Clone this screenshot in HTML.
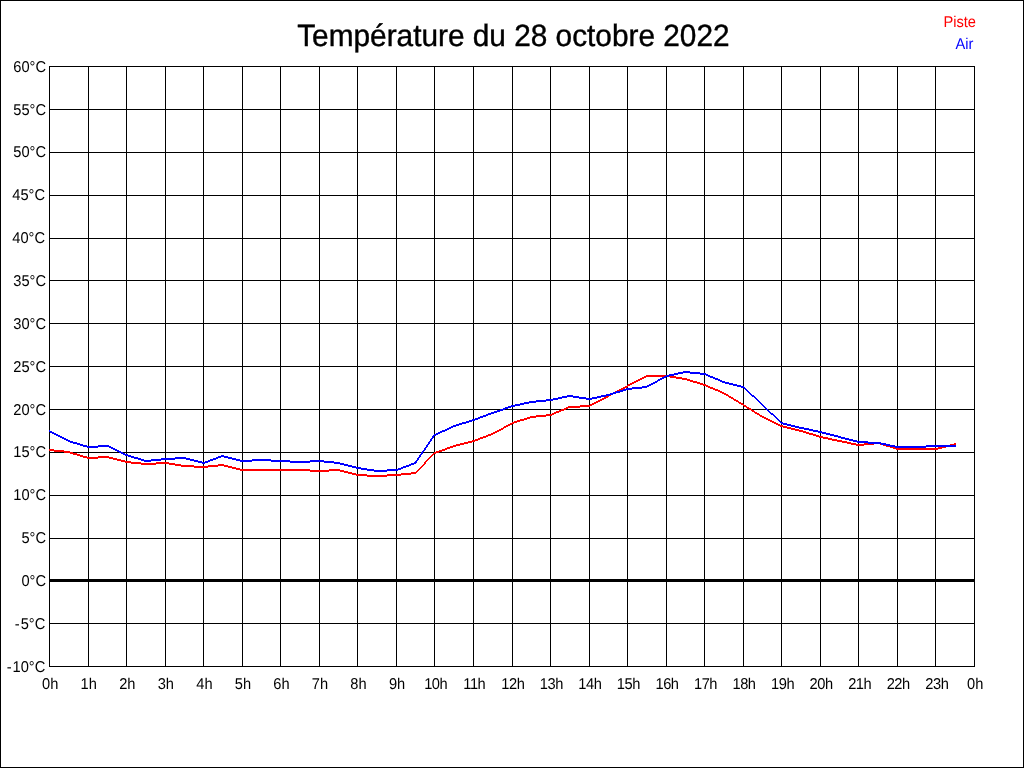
<!DOCTYPE html>
<html lang="fr"><head><meta charset="utf-8"><title>Température du 28 octobre 2022</title>
<style>
html,body{margin:0;padding:0;background:#fff;}
body{width:1024px;height:768px;overflow:hidden;font-family:"Liberation Sans",Arial,sans-serif;}
svg{display:block;}
text{font-family:"Liberation Sans",Arial,sans-serif;text-rendering:geometricPrecision;}
.ax{font-size:14.67px;fill:#000;}
.ttl{font-size:29.8px;fill:#000;stroke:#000;stroke-width:0.4px;}
</style></head><body>
<svg width="1024" height="768" viewBox="0 0 1024 768">
<rect x="0" y="0" width="1024" height="768" fill="#fff"/>
<g fill="#000" shape-rendering="crispEdges">
<rect x="0" y="0" width="1024" height="1"/><rect x="0" y="767" width="1024" height="1"/>
<rect x="0" y="0" width="1" height="768"/><rect x="1023" y="0" width="1" height="768"/>
<rect x="49" y="66" width="1" height="601"/><rect x="88" y="66" width="1" height="601"/><rect x="126" y="66" width="1" height="601"/><rect x="165" y="66" width="1" height="601"/><rect x="203" y="66" width="1" height="601"/><rect x="242" y="66" width="1" height="601"/><rect x="280" y="66" width="1" height="601"/><rect x="319" y="66" width="1" height="601"/><rect x="357" y="66" width="1" height="601"/><rect x="396" y="66" width="1" height="601"/><rect x="434" y="66" width="1" height="601"/><rect x="473" y="66" width="1" height="601"/><rect x="512" y="66" width="1" height="601"/><rect x="550" y="66" width="1" height="601"/><rect x="589" y="66" width="1" height="601"/><rect x="627" y="66" width="1" height="601"/><rect x="666" y="66" width="1" height="601"/><rect x="704" y="66" width="1" height="601"/><rect x="743" y="66" width="1" height="601"/><rect x="781" y="66" width="1" height="601"/><rect x="820" y="66" width="1" height="601"/><rect x="858" y="66" width="1" height="601"/><rect x="897" y="66" width="1" height="601"/><rect x="935" y="66" width="1" height="601"/><rect x="974" y="66" width="1" height="601"/>
<rect x="49" y="66" width="926" height="1"/><rect x="49" y="109" width="926" height="1"/><rect x="49" y="152" width="926" height="1"/><rect x="49" y="195" width="926" height="1"/><rect x="49" y="238" width="926" height="1"/><rect x="49" y="280" width="926" height="1"/><rect x="49" y="323" width="926" height="1"/><rect x="49" y="366" width="926" height="1"/><rect x="49" y="409" width="926" height="1"/><rect x="49" y="452" width="926" height="1"/><rect x="49" y="495" width="926" height="1"/><rect x="49" y="538" width="926" height="1"/><rect x="49" y="579" width="926" height="3"/><rect x="49" y="623" width="926" height="1"/><rect x="49" y="666" width="926" height="1"/>
</g>
<path fill="#ff0000" shape-rendering="crispEdges" d="M646 375h24v1h-24zM644 376h32v1h-32zM642 377h4v1h-4zM670 377h12v1h-12zM640 378h4v1h-4zM676 378h11v1h-11zM638 379h4v1h-4zM682 379h8v1h-8zM636 380h4v1h-4zM687 380h6v1h-6zM634 381h4v1h-4zM690 381h7v1h-7zM632 382h4v1h-4zM693 382h7v1h-7zM630 383h4v1h-4zM697 383h6v1h-6zM628 384h4v1h-4zM700 384h6v1h-6zM627 385h3v1h-3zM703 385h5v1h-5zM625 386h3v1h-3zM706 386h4v1h-4zM623 387h4v1h-4zM708 387h5v1h-5zM621 388h4v1h-4zM710 388h5v1h-5zM619 389h4v1h-4zM713 389h5v1h-5zM617 390h4v1h-4zM715 390h5v1h-5zM615 391h4v1h-4zM718 391h4v1h-4zM613 392h4v1h-4zM720 392h4v1h-4zM611 393h4v1h-4zM722 393h4v1h-4zM609 394h4v1h-4zM724 394h4v1h-4zM608 395h3v1h-3zM726 395h3v1h-3zM606 396h3v1h-3zM728 396h3v1h-3zM604 397h4v1h-4zM729 397h4v1h-4zM602 398h4v1h-4zM731 398h3v1h-3zM600 399h4v1h-4zM733 399h3v1h-3zM598 400h4v1h-4zM734 400h4v1h-4zM596 401h4v1h-4zM736 401h3v1h-3zM594 402h4v1h-4zM738 402h3v1h-3zM592 403h4v1h-4zM739 403h4v1h-4zM590 404h4v1h-4zM741 404h3v1h-3zM580 405h12v1h-12zM743 405h3v1h-3zM568 406h22v1h-22zM744 406h3v1h-3zM566 407h14v1h-14zM746 407h3v1h-3zM564 408h4v1h-4zM747 408h4v1h-4zM561 409h5v1h-5zM749 409h3v1h-3zM559 410h5v1h-5zM751 410h3v1h-3zM556 411h5v1h-5zM752 411h3v1h-3zM554 412h5v1h-5zM754 412h3v1h-3zM552 413h4v1h-4zM755 413h4v1h-4zM546 414h8v1h-8zM757 414h3v1h-3zM536 415h16v1h-16zM759 415h3v1h-3zM530 416h16v1h-16zM760 416h4v1h-4zM527 417h9v1h-9zM762 417h4v1h-4zM524 418h6v1h-6zM764 418h4v1h-4zM520 419h7v1h-7zM766 419h4v1h-4zM517 420h7v1h-7zM768 420h4v1h-4zM514 421h6v1h-6zM770 421h4v1h-4zM512 422h5v1h-5zM772 422h4v1h-4zM510 423h4v1h-4zM774 423h4v1h-4zM508 424h4v1h-4zM776 424h4v1h-4zM506 425h4v1h-4zM778 425h5v1h-5zM504 426h4v1h-4zM780 426h7v1h-7zM503 427h3v1h-3zM783 427h8v1h-8zM501 428h3v1h-3zM787 428h8v1h-8zM499 429h4v1h-4zM791 429h8v1h-8zM497 430h4v1h-4zM795 430h8v1h-8zM495 431h4v1h-4zM799 431h7v1h-7zM493 432h4v1h-4zM803 432h6v1h-6zM491 433h4v1h-4zM806 433h7v1h-7zM488 434h5v1h-5zM809 434h7v1h-7zM486 435h5v1h-5zM813 435h6v1h-6zM483 436h5v1h-5zM816 436h7v1h-7zM480 437h6v1h-6zM819 437h9v1h-9zM478 438h5v1h-5zM823 438h9v1h-9zM475 439h5v1h-5zM828 439h9v1h-9zM472 440h6v1h-6zM832 440h10v1h-10zM468 441h7v1h-7zM837 441h10v1h-10zM464 442h8v1h-8zM842 442h9v1h-9zM874 442h6v1h-6zM460 443h8v1h-8zM847 443h9v1h-9zM864 443h19v1h-19zM954 443h2v1h-2zM456 444h8v1h-8zM851 444h23v1h-23zM880 444h6v1h-6zM950 444h6v1h-6zM453 445h7v1h-7zM856 445h8v1h-8zM883 445h7v1h-7zM946 445h8v1h-8zM450 446h6v1h-6zM886 446h7v1h-7zM942 446h8v1h-8zM447 447h6v1h-6zM890 447h6v1h-6zM938 447h8v1h-8zM445 448h5v1h-5zM893 448h49v1h-49zM49 449h5v1h-5zM442 449h5v1h-5zM896 449h42v1h-42zM49 450h15v1h-15zM439 450h6v1h-6zM54 451h16v1h-16zM436 451h6v1h-6zM64 452h9v1h-9zM434 452h5v1h-5zM70 453h7v1h-7zM433 453h3v1h-3zM73 454h7v1h-7zM432 454h2v1h-2zM77 455h6v1h-6zM431 455h2v1h-2zM80 456h7v1h-7zM98 456h11v1h-11zM430 456h2v1h-2zM83 457h30v1h-30zM429 457h2v1h-2zM87 458h11v1h-11zM109 458h8v1h-8zM428 458h2v1h-2zM113 459h8v1h-8zM427 459h2v1h-2zM117 460h8v1h-8zM426 460h2v1h-2zM121 461h10v1h-10zM425 461h2v1h-2zM125 462h16v1h-16zM156 462h13v1h-13zM424 462h2v1h-2zM131 463h44v1h-44zM424 463h2v1h-2zM141 464h15v1h-15zM169 464h12v1h-12zM218 464h6v1h-6zM423 464h2v1h-2zM175 465h19v1h-19zM208 465h20v1h-20zM422 465h2v1h-2zM181 466h37v1h-37zM224 466h8v1h-8zM421 466h2v1h-2zM194 467h14v1h-14zM228 467h8v1h-8zM420 467h2v1h-2zM232 468h8v1h-8zM419 468h2v1h-2zM236 469h74v1h-74zM329 469h11v1h-11zM418 469h2v1h-2zM240 470h104v1h-104zM417 470h2v1h-2zM310 471h19v1h-19zM340 471h8v1h-8zM416 471h2v1h-2zM344 472h8v1h-8zM411 472h6v1h-6zM348 473h8v1h-8zM401 473h15v1h-15zM352 474h15v1h-15zM387 474h24v1h-24zM356 475h45v1h-45zM367 476h20v1h-20z"/>
<path fill="#0000ff" shape-rendering="crispEdges" d="M683 371h7v1h-7zM678 372h22v1h-22zM674 373h9v1h-9zM690 373h16v1h-16zM669 374h9v1h-9zM700 374h8v1h-8zM666 375h8v1h-8zM706 375h4v1h-4zM664 376h5v1h-5zM708 376h5v1h-5zM662 377h4v1h-4zM710 377h5v1h-5zM660 378h4v1h-4zM713 378h5v1h-5zM658 379h4v1h-4zM715 379h5v1h-5zM657 380h3v1h-3zM718 380h4v1h-4zM655 381h3v1h-3zM720 381h5v1h-5zM653 382h4v1h-4zM722 382h7v1h-7zM651 383h4v1h-4zM725 383h8v1h-8zM649 384h4v1h-4zM729 384h8v1h-8zM647 385h4v1h-4zM733 385h8v1h-8zM642 386h7v1h-7zM737 386h7v1h-7zM632 387h15v1h-15zM741 387h4v1h-4zM626 388h16v1h-16zM744 388h2v1h-2zM623 389h9v1h-9zM745 389h2v1h-2zM620 390h6v1h-6zM746 390h2v1h-2zM616 391h7v1h-7zM747 391h2v1h-2zM613 392h7v1h-7zM748 392h2v1h-2zM610 393h6v1h-6zM749 393h2v1h-2zM606 394h7v1h-7zM750 394h2v1h-2zM567 395h6v1h-6zM601 395h9v1h-9zM751 395h3v1h-3zM562 396h17v1h-17zM597 396h9v1h-9zM752 396h3v1h-3zM558 397h9v1h-9zM573 397h13v1h-13zM592 397h9v1h-9zM754 397h2v1h-2zM553 398h9v1h-9zM579 398h18v1h-18zM755 398h2v1h-2zM546 399h12v1h-12zM586 399h6v1h-6zM756 399h2v1h-2zM536 400h17v1h-17zM757 400h2v1h-2zM529 401h17v1h-17zM758 401h2v1h-2zM524 402h12v1h-12zM759 402h2v1h-2zM520 403h9v1h-9zM760 403h2v1h-2zM515 404h9v1h-9zM761 404h2v1h-2zM511 405h9v1h-9zM762 405h2v1h-2zM508 406h7v1h-7zM763 406h2v1h-2zM505 407h6v1h-6zM764 407h2v1h-2zM503 408h5v1h-5zM765 408h2v1h-2zM500 409h5v1h-5zM766 409h2v1h-2zM497 410h6v1h-6zM767 410h2v1h-2zM494 411h6v1h-6zM768 411h2v1h-2zM491 412h6v1h-6zM769 412h2v1h-2zM488 413h6v1h-6zM770 413h3v1h-3zM486 414h5v1h-5zM771 414h3v1h-3zM483 415h5v1h-5zM773 415h2v1h-2zM480 416h6v1h-6zM774 416h2v1h-2zM478 417h5v1h-5zM775 417h2v1h-2zM475 418h5v1h-5zM776 418h2v1h-2zM472 419h6v1h-6zM777 419h2v1h-2zM469 420h6v1h-6zM778 420h2v1h-2zM466 421h6v1h-6zM779 421h2v1h-2zM462 422h7v1h-7zM780 422h3v1h-3zM459 423h7v1h-7zM781 423h6v1h-6zM456 424h6v1h-6zM783 424h8v1h-8zM453 425h6v1h-6zM787 425h8v1h-8zM451 426h5v1h-5zM791 426h8v1h-8zM449 427h4v1h-4zM795 427h9v1h-9zM447 428h4v1h-4zM799 428h10v1h-10zM445 429h4v1h-4zM804 429h9v1h-9zM49 430h1v1h-1zM442 430h5v1h-5zM809 430h9v1h-9zM49 431h3v1h-3zM440 431h5v1h-5zM813 431h9v1h-9zM50 432h4v1h-4zM438 432h4v1h-4zM818 432h8v1h-8zM52 433h4v1h-4zM436 433h4v1h-4zM822 433h8v1h-8zM54 434h4v1h-4zM434 434h4v1h-4zM826 434h8v1h-8zM56 435h4v1h-4zM433 435h3v1h-3zM830 435h8v1h-8zM58 436h4v1h-4zM432 436h2v1h-2zM834 436h7v1h-7zM60 437h4v1h-4zM432 437h2v1h-2zM838 437h7v1h-7zM62 438h4v1h-4zM431 438h2v1h-2zM841 438h8v1h-8zM64 439h4v1h-4zM430 439h2v1h-2zM845 439h8v1h-8zM66 440h4v1h-4zM430 440h2v1h-2zM849 440h8v1h-8zM68 441h5v1h-5zM429 441h2v1h-2zM853 441h15v1h-15zM70 442h7v1h-7zM428 442h2v1h-2zM857 442h24v1h-24zM73 443h7v1h-7zM428 443h2v1h-2zM868 443h18v1h-18zM77 444h6v1h-6zM427 444h2v1h-2zM881 444h9v1h-9zM80 445h7v1h-7zM98 445h11v1h-11zM426 445h2v1h-2zM886 445h9v1h-9zM926 445h30v1h-30zM83 446h28v1h-28zM426 446h2v1h-2zM890 446h66v1h-66zM87 447h11v1h-11zM109 447h4v1h-4zM425 447h2v1h-2zM895 447h31v1h-31zM111 448h4v1h-4zM424 448h2v1h-2zM113 449h4v1h-4zM424 449h2v1h-2zM115 450h4v1h-4zM423 450h2v1h-2zM117 451h4v1h-4zM422 451h2v1h-2zM119 452h4v1h-4zM421 452h2v1h-2zM121 453h4v1h-4zM421 453h2v1h-2zM123 454h5v1h-5zM420 454h2v1h-2zM125 455h6v1h-6zM221 455h3v1h-3zM419 455h2v1h-2zM128 456h6v1h-6zM218 456h10v1h-10zM419 456h2v1h-2zM131 457h7v1h-7zM175 457h11v1h-11zM216 457h5v1h-5zM224 457h8v1h-8zM418 457h2v1h-2zM134 458h7v1h-7zM161 458h29v1h-29zM213 458h5v1h-5zM228 458h8v1h-8zM417 458h2v1h-2zM138 459h6v1h-6zM151 459h24v1h-24zM186 459h8v1h-8zM210 459h6v1h-6zM232 459h8v1h-8zM252 459h19v1h-19zM417 459h2v1h-2zM141 460h20v1h-20zM190 460h8v1h-8zM208 460h5v1h-5zM236 460h54v1h-54zM310 460h14v1h-14zM416 460h2v1h-2zM144 461h7v1h-7zM194 461h8v1h-8zM205 461h5v1h-5zM240 461h12v1h-12zM271 461h63v1h-63zM415 461h2v1h-2zM198 462h10v1h-10zM290 462h20v1h-20zM324 462h16v1h-16zM414 462h3v1h-3zM202 463h3v1h-3zM334 463h10v1h-10zM411 463h5v1h-5zM340 464h8v1h-8zM409 464h5v1h-5zM344 465h8v1h-8zM406 465h5v1h-5zM348 466h8v1h-8zM403 466h6v1h-6zM352 467h9v1h-9zM401 467h5v1h-5zM356 468h11v1h-11zM398 468h5v1h-5zM361 469h13v1h-13zM387 469h14v1h-14zM367 470h31v1h-31zM374 471h13v1h-13z"/>
<text class="ttl" transform="translate(297.2,45.5) scale(1,1.035)">Température du 28 octobre 2022</text>
<text class="ax" transform="translate(976.0,27.0) scale(1,1.07)" text-anchor="end" style="fill:#ff0000">Piste</text>
<text class="ax" transform="translate(973.5,49.0) scale(1,1.07)" text-anchor="end" style="fill:#0000ff">Air</text>
<g class="ax" text-anchor="end">
<text transform="translate(46.0,71.9) scale(1,1.07)">60°C</text>
<text transform="translate(46.0,114.9) scale(1,1.07)">55°C</text>
<text transform="translate(46.0,156.9) scale(1,1.07)">50°C</text>
<text transform="translate(45.0,199.9) scale(1,1.07)">45°C</text>
<text transform="translate(45.0,242.9) scale(1,1.07)">40°C</text>
<text transform="translate(46.0,285.9) scale(1,1.07)">35°C</text>
<text transform="translate(46.0,328.9) scale(1,1.07)">30°C</text>
<text transform="translate(46.0,371.9) scale(1,1.07)">25°C</text>
<text transform="translate(46.0,414.9) scale(1,1.07)">20°C</text>
<text transform="translate(46.0,456.9) scale(1,1.07)">15°C</text>
<text transform="translate(46.0,499.9) scale(1,1.07)">10°C</text>
<text transform="translate(46.0,542.9) scale(1,1.07)">5°C</text>
<text transform="translate(46.0,585.9) scale(1,1.07)">0°C</text>
<text transform="translate(45.3,628.9) scale(1,1.07)">-<tspan dx="1">5°C</tspan></text>
<text transform="translate(45.3,671.9) scale(1,1.07)">-<tspan dx="1">10°C</tspan></text>

</g>
<g class="ax" text-anchor="middle">
<text transform="translate(50.2,689.0) scale(1,1.07)">0h</text>
<text transform="translate(88.7,689.0) scale(1,1.07)">1h</text>
<text transform="translate(127.3,689.0) scale(1,1.07)">2h</text>
<text transform="translate(165.8,689.0) scale(1,1.07)">3h</text>
<text transform="translate(204.4,689.0) scale(1,1.07)">4h</text>
<text transform="translate(242.9,689.0) scale(1,1.07)">5h</text>
<text transform="translate(281.4,689.0) scale(1,1.07)">6h</text>
<text transform="translate(320.0,689.0) scale(1,1.07)">7h</text>
<text transform="translate(358.5,689.0) scale(1,1.07)">8h</text>
<text transform="translate(397.1,689.0) scale(1,1.07)">9h</text>
<text transform="translate(435.7,689.0) scale(1,1.07)" style="letter-spacing:-0.45px">10h</text>
<text transform="translate(474.3,689.0) scale(1,1.07)" style="letter-spacing:-0.45px">11h</text>
<text transform="translate(512.8,689.0) scale(1,1.07)" style="letter-spacing:-0.45px">12h</text>
<text transform="translate(551.3,689.0) scale(1,1.07)" style="letter-spacing:-0.45px">13h</text>
<text transform="translate(589.9,689.0) scale(1,1.07)" style="letter-spacing:-0.45px">14h</text>
<text transform="translate(628.4,689.0) scale(1,1.07)" style="letter-spacing:-0.45px">15h</text>
<text transform="translate(667.0,689.0) scale(1,1.07)" style="letter-spacing:-0.45px">16h</text>
<text transform="translate(705.5,689.0) scale(1,1.07)" style="letter-spacing:-0.45px">17h</text>
<text transform="translate(744.0,689.0) scale(1,1.07)" style="letter-spacing:-0.45px">18h</text>
<text transform="translate(782.6,689.0) scale(1,1.07)" style="letter-spacing:-0.45px">19h</text>
<text transform="translate(821.1,689.0) scale(1,1.07)" style="letter-spacing:-0.45px">20h</text>
<text transform="translate(859.7,689.0) scale(1,1.07)" style="letter-spacing:-0.45px">21h</text>
<text transform="translate(898.2,689.0) scale(1,1.07)" style="letter-spacing:-0.45px">22h</text>
<text transform="translate(936.8,689.0) scale(1,1.07)" style="letter-spacing:-0.45px">23h</text>
<text transform="translate(975.2,689.0) scale(1,1.07)">0h</text>

</g>
</svg>
</body></html>
